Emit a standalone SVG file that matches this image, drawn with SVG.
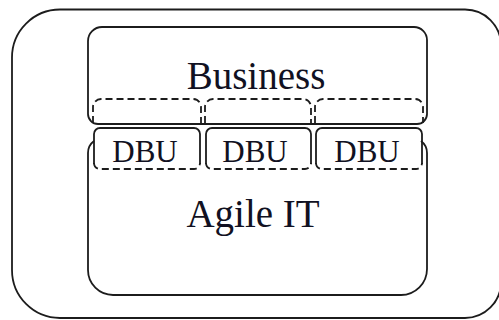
<svg xmlns="http://www.w3.org/2000/svg" width="499" height="320" viewBox="0 0 499 320">
<style>
.ln{fill:none;stroke:#1c1c1c;stroke-width:1.8}
.box{fill:#fff;stroke:#1c1c1c;stroke-width:1.8}
.dash{fill:none;stroke:#1c1c1c;stroke-width:1.8;stroke-dasharray:7 4}
.t{font-family:"Liberation Serif","Times New Roman",serif;fill:#111122;text-anchor:middle}
</style>
<rect width="499" height="320" fill="#fff"/>
<g id="outer">
<path class="ln" d="M60 9.5 H465 A36 36 0 0 1 501 45.5 V282 A36 36 0 0 1 465 318 H60 A48 48 0 0 1 12 270 V57.5 A48 48 0 0 1 60 9.5 Z"/>
</g>
<g id="agile-it">
<path class="ln" d="M94 141 A15 15 0 0 0 88 153 V270 A25 25 0 0 0 113 295 H401 A26 26 0 0 0 427 269 V153 A15 15 0 0 0 421 141"/>
<text class="t" x="253" y="227" font-size="39">Agile IT</text>
</g>
<g id="business">
<path class="ln" d="M88 114 V41 A14 14 0 0 1 102 27 H414 A13 13 0 0 1 427 40 V114 A10 10 0 0 1 417 124 H98 A10 10 0 0 1 88 114 Z"/>
<text class="t" x="256" y="89" font-size="39">Business</text>
</g>
<g id="dbu-top">
<path class="dash" d="M93 123 V107 A8 8 0 0 1 101 99 H193 A8 8 0 0 1 201 107 V123"/>
<path class="dash" d="M205 123 V107 A8 8 0 0 1 213 99 H303 A8 8 0 0 1 311 107 V123"/>
<path class="dash" d="M315 123 V107 A8 8 0 0 1 323 99 H415 A8 8 0 0 1 423 107 V123"/>
</g>
<g id="dbu1">
<path class="ln" d="M94 164 V134 A6 6 0 0 1 100 128 H194 A6 6 0 0 1 200 134 V164"/>
<path class="dash" d="M94 163 A6 6 0 0 0 100 169 H194 A6 6 0 0 0 200 163"/>
<text class="t" x="145" y="162" font-size="31">DBU</text>
</g>
<g id="dbu2">
<path class="ln" d="M206 164 V134 A6 6 0 0 1 212 128 H305 A6 6 0 0 1 311 134 V164"/>
<path class="dash" d="M206 163 A6 6 0 0 0 212 169 H305 A6 6 0 0 0 311 163"/>
<text class="t" x="255" y="162" font-size="31">DBU</text>
</g>
<g id="dbu3">
<path class="ln" d="M316 164 V134 A6 6 0 0 1 322 128 H416 A6 6 0 0 1 422 134 V164"/>
<path class="dash" d="M316 163 A6 6 0 0 0 322 169 H416 A6 6 0 0 0 422 163"/>
<text class="t" x="367" y="162" font-size="31">DBU</text>
</g>
<g id="connectors"></g>
</svg>
